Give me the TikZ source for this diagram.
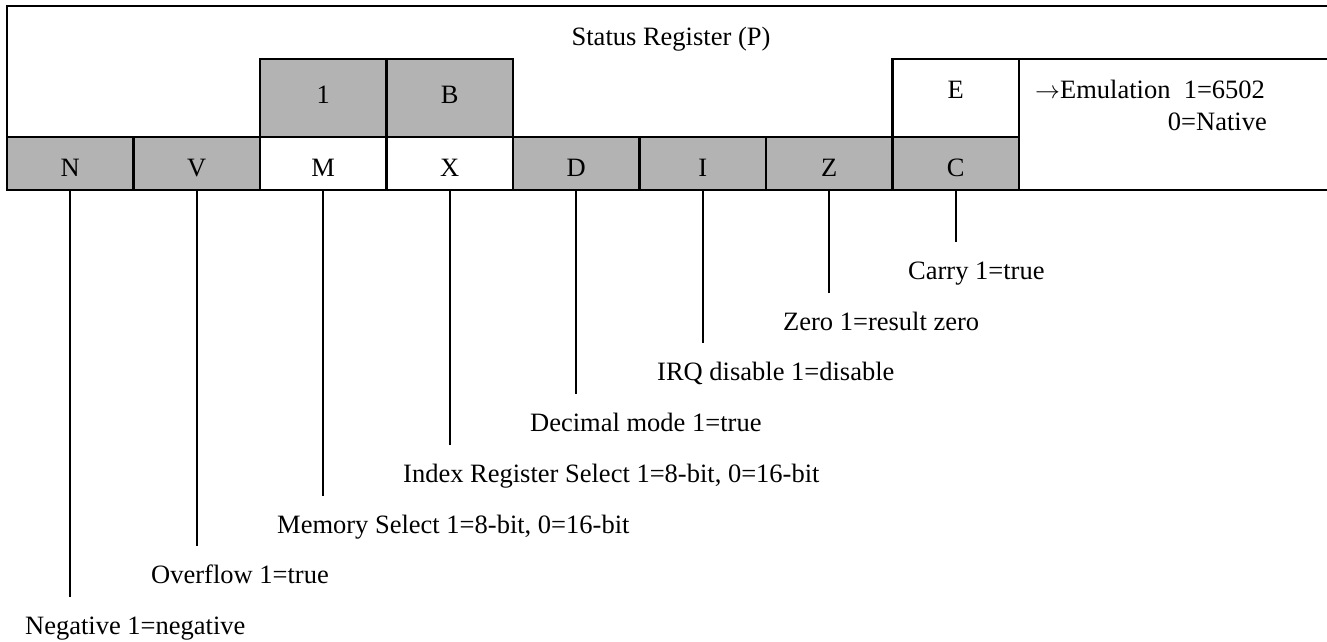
\documentclass[tikz,border=0pt]{standalone}
\usepackage{fontspec}
\setmainfont{Liberation Serif}
\definecolor{regGray}{RGB}{179,179,179}
\begin{document}
\begin{tikzpicture}[x=1pt,y=-1pt,
  font=\fontsize{26.5}{32}\selectfont,
  border/.style={line width=2.7pt},
  cell/.style={draw, line width=2.7pt, minimum width=126.5pt, minimum height=53pt, inner sep=0pt, text height=25pt, text depth=0pt},
  topcell/.style={draw, line width=2.7pt, minimum width=126.5pt, minimum height=78pt, inner sep=0pt, text depth=0pt},
  gcell/.style={cell, fill=regGray},
  conn/.style={line width=2pt},
  lab/.style={anchor=base west, inner sep=0pt}
]
\useasboundingbox (0,0) rectangle (1327,642);
% outer frame
\draw[border] (1327,6) -- (7,6) -- (7,190) -- (1327,190);
\draw[border] (1019,59) -- (1327,59);
% title
\node[anchor=base, inner sep=0pt] (title) at (671,46) {Status Register (P)};
% upper row cells
\node[topcell, fill=regGray, text height=10pt] (one) at (323.25,98) {1};
\node[topcell, fill=regGray, text height=10pt] (B) at (449.75,98) {B};
\node[topcell, fill=white, text height=0pt] (E) at (955.75,98) {E};
% lower row cells
\node[gcell] (N) at (70.25,163.5) {N};
\node[gcell] (V) at (196.75,163.5) {V};
\node[cell, fill=white] (M) at (323.25,163.5) {M};
\node[cell, fill=white] (X) at (449.75,163.5) {X};
\node[gcell] (D) at (576.25,163.5) {D};
\node[gcell] (I) at (702.75,163.5) {I};
\node[gcell] (Z) at (829.25,163.5) {Z};
\node[gcell] (C) at (955.75,163.5) {C};
% emulation text
\node[anchor=base west, inner sep=0pt] (emu) at (1035,98) {$\rightarrow$Emulation\ \ 1=6502};
\node[anchor=base east, inner sep=0pt] (nat) at (1267,130) {0=Native};
% connector ends
\coordinate (eN) at (70.25,597);
\coordinate (eV) at (196.75,546.2);
\coordinate (eM) at (323.25,495.5);
\coordinate (eX) at (449.75,444.8);
\coordinate (eD) at (576.25,394.1);
\coordinate (eI) at (702.75,343.4);
\coordinate (eZ) at (829.25,292.7);
\coordinate (eC) at (955.75,242);
\foreach \k in {N,V,M,X,D,I,Z,C}{\draw[conn] (\k) -- (e\k);}
% labels
\node[lab] (lN) at (25,634.5) {Negative 1=negative};
\node[lab] (lV) at (151,583.7) {Overflow 1=true};
\node[lab] (lM) at (277,533) {Memory Select 1=8-bit, 0=16-bit};
\node[lab] (lX) at (403,482.3) {Index Register Select 1=8-bit, 0=16-bit};
\node[lab] (lD) at (530,431.6) {Decimal mode 1=true};
\node[lab] (lI) at (657,380.9) {IRQ disable 1=disable};
\node[lab] (lZ) at (783,330.2) {Zero 1=result zero};
\node[lab] (lC) at (908,279.5) {Carry 1=true};
\end{tikzpicture}
\end{document}
